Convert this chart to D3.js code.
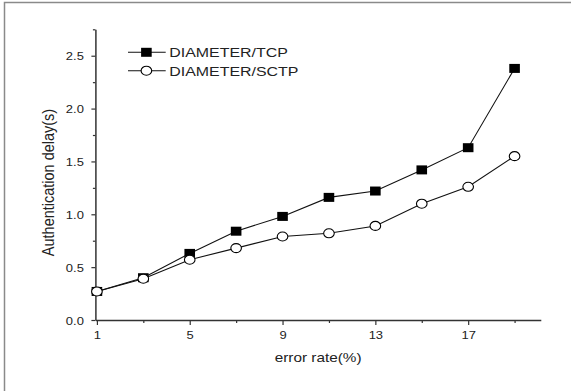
<!DOCTYPE html>
<html>
<head>
<meta charset="utf-8">
<script src="https://cdn.jsdelivr.net/npm/d3@7"></script>
<style>
  html, body { margin: 0; padding: 0; background: #fff; }
  svg { display: block; font-family: Arial, "Liberation Sans", sans-serif; }
</style>
</head>
<body>
<svg id="chart" width="571" height="391"></svg>
<script>
// ---- data ----
const errorRates = [1, 3, 5, 7, 9, 11, 13, 15, 17, 19];
const tcpDelay  = [0.27, 0.40, 0.63, 0.84, 0.98, 1.16, 1.22, 1.42, 1.63, 2.38];
const sctpDelay = [0.27, 0.39, 0.57, 0.68, 0.79, 0.82, 0.89, 1.10, 1.26, 1.55];
const seriesNames = ["DIAMETER/TCP", "DIAMETER/SCTP"];
const xMajorTicks = [1, 5, 9, 13, 17];
const xMinorTicks = [3, 7, 11, 15, 19];
const yMajorTicks = [0, 0.5, 1.0, 1.5, 2.0, 2.5];
const yMinorTicks = [0.25, 0.75, 1.25, 1.75, 2.25, 2.75];

const svg = d3.select("#chart");
const SX = 1.18; // horizontal stretch of the reference glyphs

// outer frame
svg.append("rect").attr("x", 4.5).attr("y", 2.5).attr("width", 600).attr("height", 420)
  .attr("fill", "none").attr("stroke", "#8a8a8a").attr("stroke-width", 1.5);

const x = d3.scaleLinear().domain([0.935, 20.13]).range([95.4, 540.8]);
const y = d3.scaleLinear().domain([0, 2.75]).range([320, 29.3]);

const axisColor = "#333";
const textColor = "#222";

// x axis
const gx = svg.append("g").attr("transform", `translate(0,${y(0)})`);
gx.call(d3.axisBottom(x).tickValues(xMinorTicks).tickSize(3).tickSizeOuter(0).tickFormat(""));
gx.call(g => g.selectAll(".domain").remove());
const gx2 = svg.append("g").attr("transform", `translate(0,${y(0)})`);
gx2.call(d3.axisBottom(x).tickValues(xMajorTicks).tickSize(5).tickSizeOuter(0).tickFormat(d3.format("d")));
[gx, gx2].forEach(g => {
  g.selectAll("line").attr("stroke", axisColor).attr("stroke-width", 1.2);
  g.selectAll(".domain").attr("stroke", axisColor).attr("stroke-width", 1.5);
});
gx2.selectAll("text")
  .attr("y", null).attr("dy", null)
  .attr("transform", `translate(0,18.5) scale(${SX},1)`)
  .attr("fill", textColor).attr("font-size", 11).attr("font-family", "Arial, 'Liberation Sans', sans-serif");

// y axis
const gy = svg.append("g").attr("transform", `translate(${x.range()[0]},0)`);
gy.call(d3.axisLeft(y).tickValues(yMinorTicks).tickSize(2.5).tickSizeOuter(0).tickFormat(""));
gy.call(g => g.selectAll(".domain").remove());
const gy2 = svg.append("g").attr("transform", `translate(${x.range()[0]},0)`);
gy2.call(d3.axisLeft(y).tickValues(yMajorTicks).tickSize(4).tickSizeOuter(0).tickFormat(d3.format(".1f")));
[gy, gy2].forEach(g => {
  g.selectAll("line").attr("stroke", axisColor).attr("stroke-width", 1.2);
  g.selectAll(".domain").attr("stroke", axisColor).attr("stroke-width", 1.5);
});
gy2.selectAll("text")
  .attr("x", null).attr("dy", null)
  .attr("transform", `translate(-11.5,4) scale(${SX},1)`)
  .attr("fill", textColor).attr("font-size", 11).attr("font-family", "Arial, 'Liberation Sans', sans-serif");

// axis titles
svg.append("text")
  .attr("transform", `translate(${(x.range()[0] + x.range()[1]) / 2},361.7) scale(${SX},1)`)
  .attr("text-anchor", "middle").attr("font-size", 13).attr("fill", textColor)
  .text("error rate(%)");
svg.append("text")
  .attr("transform", `translate(53.5,182.5) rotate(-90) scale(1,${SX})`)
  .attr("text-anchor", "middle").attr("font-size", 14.5).attr("fill", textColor)
  .text("Authentication delay(s)");

// series
const line = d3.line().x((d, i) => x(errorRates[i])).y(d => y(d));
const MW = 10.6, MH = 9;

svg.append("path").datum(tcpDelay).attr("d", line)
  .attr("fill", "none").attr("stroke", "#111").attr("stroke-width", 1.1);
svg.selectAll(".sq").data(tcpDelay).join("rect").attr("class", "sq")
  .attr("x", (d, i) => x(errorRates[i]) - MW / 2).attr("y", d => y(d) - MH / 2)
  .attr("width", MW).attr("height", MH).attr("fill", "#000");

svg.append("path").datum(sctpDelay).attr("d", line)
  .attr("fill", "none").attr("stroke", "#111").attr("stroke-width", 1.1);
svg.selectAll(".ci").data(sctpDelay).join("ellipse").attr("class", "ci")
  .attr("cx", (d, i) => x(errorRates[i])).attr("cy", d => y(d))
  .attr("rx", MW / 2).attr("ry", MH / 2)
  .attr("fill", "#fff").attr("stroke", "#000").attr("stroke-width", 1.1);

// legend
const legendRows = [
  { name: seriesNames[0], cy: 52.3, base: 57.3, type: "square" },
  { name: seriesNames[1], cy: 70.7, base: 75.6, type: "circle" }
];
legendRows.forEach(r => {
  svg.append("line").attr("x1", 128).attr("x2", 165.7).attr("y1", r.cy).attr("y2", r.cy)
    .attr("stroke", "#111").attr("stroke-width", 1.1);
  if (r.type === "square") {
    svg.append("rect").attr("x", 146.4 - MW / 2).attr("y", r.cy - MH / 2)
      .attr("width", MW).attr("height", MH).attr("fill", "#000");
  } else {
    svg.append("ellipse").attr("cx", 146.4).attr("cy", r.cy).attr("rx", MW / 2).attr("ry", MH / 2)
      .attr("fill", "#fff").attr("stroke", "#000").attr("stroke-width", 1.1);
  }
  svg.append("text").attr("transform", `translate(169.3,${r.base}) scale(${SX},1)`)
    .attr("font-size", 13.5).attr("fill", textColor).text(r.name);
});
</script>
</body>
</html>
